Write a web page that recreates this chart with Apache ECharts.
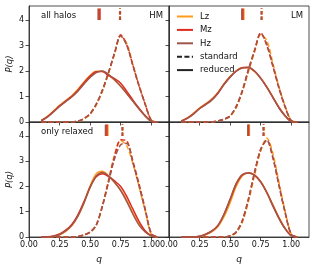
<!DOCTYPE html>
<html><head><meta charset="utf-8">
<script src="https://cdn.jsdelivr.net/npm/echarts@6/dist/echarts.min.js"></script>
<style>html,body{margin:0;padding:0;background:#fff}#c{width:315px;height:269px}</style>
</head><body><div id="c"></div>
<script>
// q grid
const q = [0.10,0.15,0.20,0.25,0.30,0.35,0.40,0.45,0.50,0.55,0.60,0.65,0.70,0.75,0.80,0.85,0.90,0.95,1.00,1.05];
const xTicks = [0, 0.25, 0.5, 0.75, 1.0];
const yTicks = [0, 1, 2, 3, 4];
const seriesNames = ['Lz','Mz','Hz'];

// Panel: all halos, HM
const allHM_reduced_Lz = [0.06,0.22,0.43,0.65,0.84,1.03,1.28,1.57,1.83,1.99,1.99,1.84,1.64,1.40,1.12,0.82,0.52,0.24,0.03,0];
const allHM_reduced_Mz = [0.05,0.20,0.41,0.63,0.82,1.01,1.25,1.54,1.80,1.97,1.98,1.82,1.70,1.52,1.20,0.86,0.54,0.25,0.03,0];
const allHM_reduced_Hz = [0.05,0.19,0.39,0.61,0.80,0.98,1.21,1.49,1.75,1.94,2.00,1.87,1.66,1.40,1.11,0.81,0.51,0.24,0.03,0];
const allHM_standard_Lz = [0,0,0,0,0,0.01,0.03,0.12,0.30,0.66,1.20,1.90,2.66,3.36,3.08,2.26,1.44,0.72,0.08,0];
const allHM_standard_Mz = [0,0,0,0,0,0.01,0.04,0.14,0.33,0.70,1.24,1.93,2.72,3.42,3.02,2.22,1.42,0.70,0.06,0];
const allHM_standard_Hz = [0,0,0,0,0,0.01,0.03,0.13,0.32,0.70,1.25,1.95,2.70,3.38,3.00,2.20,1.41,0.71,0.06,0];

// Panel: all halos, LM
const allLM_reduced_Lz = [0.04,0.16,0.34,0.55,0.72,0.90,1.16,1.50,1.78,2.01,2.14,2.13,1.98,1.72,1.38,0.98,0.57,0.25,0.02,0];
const allLM_reduced_Mz = [0.03,0.15,0.32,0.53,0.70,0.88,1.14,1.48,1.77,2.00,2.13,2.14,1.99,1.72,1.37,0.96,0.56,0.24,0.02,0];
const allLM_reduced_Hz = [0.03,0.14,0.31,0.52,0.68,0.86,1.12,1.47,1.76,1.99,2.13,2.15,2.00,1.71,1.36,0.96,0.55,0.24,0.02,0];
const allLM_standard_Lz = [0,0,0,0,0,0,0.04,0.10,0.22,0.56,1.18,1.98,2.74,3.42,3.20,2.30,1.38,0.62,0.06,0];
const allLM_standard_Mz = [0,0,0,0,0,0,0.05,0.11,0.24,0.60,1.22,2.05,2.82,3.50,3.00,2.18,1.32,0.58,0.05,0];
const allLM_standard_Hz = [0,0,0,0,0,0,0.05,0.11,0.24,0.62,1.25,2.07,2.80,3.48,3.05,2.20,1.33,0.60,0.05,0];

// Panel: only relaxed, HM
const relHM_reduced_Lz = [0,0,0.02,0.08,0.22,0.44,0.82,1.36,2.02,2.50,2.60,2.42,2.15,1.85,1.45,0.95,0.52,0.22,0.05,0];
const relHM_reduced_Mz = [0,0.01,0.04,0.12,0.27,0.50,0.88,1.40,1.98,2.38,2.50,2.40,2.22,2.00,1.60,1.10,0.62,0.25,0.05,0];
const relHM_reduced_Hz = [0,0,0.03,0.10,0.24,0.46,0.83,1.35,1.96,2.41,2.55,2.42,2.17,1.84,1.40,0.90,0.47,0.20,0.05,0];
const relHM_standard_Lz = [0,0,0,0,0,0,0.02,0.08,0.18,0.46,1.25,2.25,3.25,3.82,3.60,2.90,2.00,1.05,0.12,0];
const relHM_standard_Mz = [0,0,0,0,0,0,0.02,0.08,0.20,0.48,1.22,2.20,3.20,3.85,3.80,3.00,2.10,1.12,0.15,0];
const relHM_standard_Hz = [0,0,0,0,0,0,0.02,0.08,0.19,0.47,1.20,2.15,3.10,3.65,3.70,2.93,2.02,1.07,0.12,0];

// Panel: only relaxed, LM
const relLM_reduced_Lz = [0,0,0,0.02,0.09,0.20,0.40,0.80,1.36,2.00,2.42,2.53,2.46,2.20,1.78,1.27,0.77,0.34,0.06,0];
const relLM_reduced_Mz = [0,0,0,0.03,0.11,0.24,0.46,0.90,1.48,2.10,2.46,2.53,2.45,2.18,1.76,1.24,0.74,0.33,0.05,0];
const relLM_reduced_Hz = [0,0,0,0.03,0.11,0.23,0.45,0.90,1.50,2.12,2.47,2.53,2.44,2.17,1.75,1.22,0.73,0.32,0.05,0];
const relLM_standard_Lz = [0,0,0,0,0,0,0,0,0.04,0.17,0.58,1.40,2.45,3.40,3.92,3.30,2.15,1.02,0.12,0];
const relLM_standard_Mz = [0,0,0,0,0,0,0,0,0.05,0.20,0.66,1.52,2.58,3.48,3.82,3.12,2.02,0.96,0.10,0];
const relLM_standard_Hz = [0,0,0,0,0,0,0,0,0.05,0.20,0.65,1.50,2.55,3.45,3.84,3.15,2.04,0.97,0.10,0];

// Medians (Lz, Mz, Hz) shown as short bars at the top
const allHM_median_reduced = [0.575, 0.580, 0.566];
const allHM_median_standard = [0.748, 0.745, 0.742];
const allLM_median_reduced = [0.612, 0.604, 0.596];
const allLM_median_standard = [0.762, 0.757, 0.755];
const relHM_median_reduced = [0.645, 0.637, 0.626];
const relHM_median_standard = [0.768, 0.765, 0.762];
const relLM_median_reduced = [0.657, 0.651, 0.645];
const relLM_median_standard = [0.779, 0.774, 0.770];
const medianBarRange = [4.0, 4.45];

const panelTexts = [['all halos','HM'], ['','LM'], ['only relaxed',''], ['','']];

const colors = {Lz:'#ff9a1a', Mz:'#e02a1e', Hz:'#a0564a'};
const panels = [
  {reduced:[allHM_reduced_Lz,allHM_reduced_Mz,allHM_reduced_Hz], standard:[allHM_standard_Lz,allHM_standard_Mz,allHM_standard_Hz], medR:allHM_median_reduced, medS:allHM_median_standard},
  {reduced:[allLM_reduced_Lz,allLM_reduced_Mz,allLM_reduced_Hz], standard:[allLM_standard_Lz,allLM_standard_Mz,allLM_standard_Hz], medR:allLM_median_reduced, medS:allLM_median_standard},
  {reduced:[relHM_reduced_Lz,relHM_reduced_Mz,relHM_reduced_Hz], standard:[relHM_standard_Lz,relHM_standard_Mz,relHM_standard_Hz], medR:relHM_median_reduced, medS:relHM_median_standard},
  {reduced:[relLM_reduced_Lz,relLM_reduced_Mz,relLM_reduced_Hz], standard:[relLM_standard_Lz,relLM_standard_Mz,relLM_standard_Hz], medR:relLM_median_reduced, medS:relLM_median_standard}
];

const FONT = 'DejaVu Sans';
const gridPos = [
  {left:29, top:6, width:140, height:116},
  {left:169, top:6, width:140, height:116},
  {left:29, top:122, width:140, height:115},
  {left:169, top:122, width:140, height:115}
];
const grid = gridPos.map(g => Object.assign({show:true, borderColor:'#222', borderWidth:0.8, backgroundColor:'transparent'}, g));
const axLine = {show:true, lineStyle:{color:'#222', width:0.8}};
const xAxis = gridPos.map((g,i) => {
  const bottom = i >= 2;
  return {gridIndex:i, type:'value', min:0, max:1.145,
    axisLine:axLine,
    axisTick:{show:true, length:3.5, customValues:xTicks, lineStyle:{color:'#222', width:0.8}},
    axisLabel:{show:bottom, customValues:xTicks, formatter:v=>v.toFixed(2), fontSize:8, fontFamily:FONT, color:'#111', margin:4},
    splitLine:{show:false},
    name: bottom ? 'q' : '', nameLocation:'middle', nameGap:18,
    nameTextStyle:{fontStyle:'italic', fontSize:9, fontFamily:FONT, color:'#111'}};
});
const yAxis = gridPos.map((g,i) => {
  const left = i % 2 === 0;
  return {gridIndex:i, type:'value', min:0, max:4.55,
    axisLine:axLine,
    axisTick:{show:true, length:3.5, customValues:yTicks, lineStyle:{color:'#222', width:0.8}},
    axisLabel:{show:left, customValues:yTicks, fontSize:8, fontFamily:FONT, color:'#111', margin:5},
    splitLine:{show:false},
    name: left ? 'P(q)' : '', nameLocation:'middle', nameGap:15, nameRotate:90,
    nameTextStyle:{fontStyle:'italic', fontSize:8.5, fontFamily:FONT, color:'#111'}};
});

const series = [];
panels.forEach((p, i) => {
  ['reduced','standard'].forEach(style => {
    seriesNames.forEach((n, k) => {
      series.push({type:'line', name:n, xAxisIndex:i, yAxisIndex:i,
        data:q.map((x, j) => [x, p[style][k][j]]),
        smooth:0.3, symbol:'none', z: 2 + k,
        lineStyle:{color:colors[n], width:1.5, type: style === 'standard' ? [5, 2.4] : 'solid'},
        itemStyle:{color:colors[n]}});
    });
  });
  [['medR','solid'],['medS',[3.5,2]]].forEach(([key, type]) => {
    seriesNames.forEach((n, k) => {
      series.push({type:'line', name:n, xAxisIndex:i, yAxisIndex:i,
        data:medianBarRange.map(y => [p[key][k], y]),
        symbol:'none', z:5, silent:true,
        lineStyle:{color:colors[n], width:1.6, type:type}, itemStyle:{color:colors[n]}});
    });
  });
});
// legend-only entries
series.push({type:'line', name:'standard', xAxisIndex:1, yAxisIndex:1, data:[], symbol:'none',
  lineStyle:{color:'#222', width:1.5, type:[5,2.4]}, itemStyle:{color:'#222'}});
series.push({type:'line', name:'reduced', xAxisIndex:1, yAxisIndex:1, data:[], symbol:'none',
  lineStyle:{color:'#222', width:1.5}, itemStyle:{color:'#222'}});

const title = [
  {text:panelTexts[0][0], left:41, top:11},
  {text:panelTexts[0][1], right:152, top:11},
  {text:panelTexts[1][1], right:12, top:11},
  {text:panelTexts[2][0], left:41, top:127}
].map(t => Object.assign({padding:0, textStyle:{fontSize:8.5, fontWeight:'normal', fontFamily:FONT, color:'#111'}}, t));

const chart = echarts.init(document.getElementById('c'), null, {renderer:'canvas'});
chart.setOption({
  animation:false,
  backgroundColor:'#fff',
  title: title,
  grid: grid,
  xAxis: xAxis,
  yAxis: yAxis,
  legend:{data:['Lz','Mz','Hz','standard','reduced'], orient:'vertical', left:176, top:12, padding:0,
    itemWidth:16, itemHeight:8, itemGap:4.4,
    itemStyle:{opacity:0},
    textStyle:{fontSize:8.5, fontFamily:FONT, color:'#111', padding:[0,0,0,2]}},
  series: series
});
</script></body></html>
